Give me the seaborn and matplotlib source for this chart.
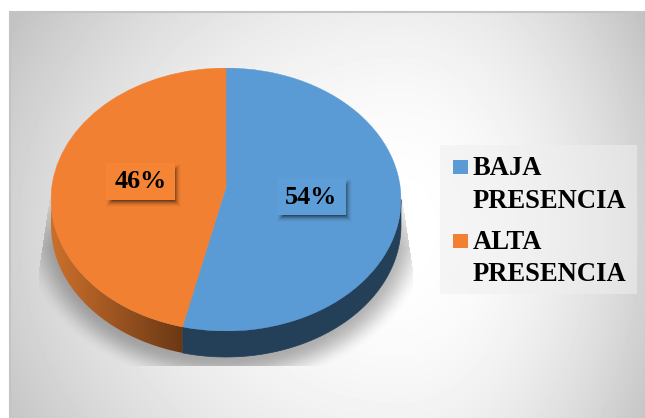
import numpy as np
import matplotlib
matplotlib.use("Agg")
import matplotlib.pyplot as plt
from matplotlib.legend_handler import HandlerPatch
from matplotlib.patches import Patch, PathPatch, Polygon, Rectangle
from matplotlib.path import Path
import seaborn as sns

categories = ["BAJA\nPRESENCIA", "ALTA\nPRESENCIA"]
shares = [54, 46]
top_colors = ["#5b9bd5", "#f28032"]
wall_colors = ["#243f58"]
label_fills = ["#5e9ed8", "#f58434"]

sns.set_theme(style="white")
plt.rcParams["font.family"] = ["Liberation Serif", "DejaVu Serif"]
plt.rcParams["font.weight"] = "bold"
palette = sns.color_palette(top_colors)

W, H = 645, 418
fig = plt.figure(figsize=(W / 100, H / 100), dpi=100, facecolor="white")

# Pixel-scale canvas for the backdrop, the drop shadow and the pie's wall
ax = fig.add_axes([0, 0, 1, 1])
ax.axis("off")

yy, xx = np.mgrid[0:H, 0:W] + 0.5


def rgba_layer(alpha, rgb=(0, 0, 0)):
    layer = np.zeros(alpha.shape + (4,))
    layer[..., :3] = rgb
    layer[..., 3] = alpha
    return layer


# Backdrop: off-centre radial fade from white to grey
cx0, cy0 = 400.0, 230.0
dx = np.where(xx > cx0, (xx - cx0) / 245.0, (xx - cx0) / 390.0)
dy = (yy - cy0) / 350.0
shade = np.clip(255 - 45 * (dx**2 + dy**2), 0, 255) / 255
ax.imshow(shade, cmap="gray", vmin=0, vmax=1, extent=(0, W, H, 0), aspect="auto", zorder=0)
ax.add_patch(Rectangle((0, 0), 9, H, fc="white", ec="none", zorder=1))
ax.add_patch(Rectangle((0, 0), W, 11, fc="white", ec="none", zorder=1))
ax.plot([10, 10, W], [H, 11.5, 11.5], color="#c4c4c4", lw=1.5, zorder=1)

# Geometry of the elliptical top face
px_cx, px_cy, rx, ry = 226.0, 199.5, 175.0, 131.5
depth = 26.0
apex_y = 187.0

# Soft ground shadow, cut flat at the bottom and tapering in towards the top
sx, sy = 226.0, 226.0
er = np.sqrt(((xx - sx) / 192.0) ** 2 + ((yy - sy) / 150.0) ** 2)
soft = np.clip((1.08 - er) / 0.2, 0, 1)
soft = soft * soft * (3 - 2 * soft)
fade = np.clip((yy - 188.0) / 60.0, 0, 1)
half_width = 175.0 + 12.0 * np.clip((yy - 190.0) / 80.0, 0, 1)
mask = (yy < 366) & (np.abs(xx - sx) < half_width)
ax.imshow(rgba_layer(0.3 * soft * fade * mask), extent=(0, W, H, 0), aspect="auto", zorder=2)

# Pie wall: the lower half of the rim, pushed down by the depth
theta_split = np.deg2rad(360 * shares[0] / sum(shares))


def wall_path(a0, a1):
    t = np.linspace(a0, a1, 120)
    x = px_cx + rx * np.sin(t)
    y = px_cy - ry * np.cos(t)
    return np.r_[np.c_[x, y], np.c_[x, y + depth][::-1]]


ax.add_patch(Polygon(wall_path(np.pi / 2, theta_split), closed=True,
                     fc=wall_colors[0], ec=wall_colors[0], lw=0.5, zorder=3))

orange_wall = Polygon(wall_path(theta_split, 3 * np.pi / 2), closed=True,
                      fc="none", ec="none", zorder=3)
ax.add_patch(orange_wall)
split_x = px_cx + rx * np.sin(theta_split)
ramp = np.clip((xx[0] - 51.0) / (split_x - 51.0), 0, 1)
start, end = np.array([0.80, 0.44, 0.17]), np.array([0.42, 0.22, 0.08])
grad = np.tile(start[None, :] + (end - start)[None, :] * ramp[:, None], (H, 1, 1))
img = ax.imshow(grad, extent=(0, W, H, 0), aspect="auto", zorder=3)
img.set_clip_path(orange_wall)
ax.set_xlim(0, W)
ax.set_ylim(H, 0)

# Top face: a pie stretched into the ellipse by its own axes box
pie_ax = fig.add_axes([(px_cx - rx) / W, 1 - (px_cy + ry) / H, 2 * rx / W, 2 * ry / H])
wedges, _ = pie_ax.pie(shares, colors=palette, startangle=90, counterclock=False,
                       radius=1.0, wedgeprops={"linewidth": 0})
pie_ax.set_aspect("auto")
pie_ax.set_xlim(-1, 1)
pie_ax.set_ylim(-1, 1)
pie_ax.patch.set_alpha(0)
pie_ax.axis("off")

# The foreshortened hub sits above the ellipse's geometric centre
hub = (px_cy - apex_y) / ry
for w in wedges:
    path = w.get_path()
    verts = path.vertices.copy()
    verts[np.all(np.isclose(verts, 0.0), axis=1)] = (0.0, hub)
    w.set_visible(False)
    pie_ax.add_patch(PathPatch(Path(verts, path.codes), fc=w.get_facecolor(),
                               ec=w.get_facecolor(), lw=0.3, zorder=2))

# Overlay for the value labels and the legend
top = fig.add_axes([0, 0, 1, 1])
top.axis("off")
top.patch.set_alpha(0)

label_boxes = [(277, 178, 346, 215), (106, 163, 175, 200)]
for val, fill, (x0, y0, x1, y1) in zip(shares, label_fills, label_boxes):
    edge = np.minimum.reduce([xx - (x0 + 3), (x1 + 3) - xx, yy - (y0 + 4), (y1 + 4) - yy])
    s = np.clip((edge + 4) / 8, 0, 1)
    top.imshow(rgba_layer(0.6 * s * s), extent=(0, W, H, 0), aspect="auto", zorder=1)
    top.add_patch(Rectangle((x0, y0), x1 - x0, y1 - y0, fc=fill, ec="none", zorder=2))
    top.text((x0 + x1) / 2, (y0 + y1) / 2 + 0.5, f"{val}%", ha="center", va="center",
             fontsize=18.8, fontweight="bold", color="black", zorder=3)
top.set_xlim(0, W)
top.set_ylim(H, 0)

# Translucent panel behind the legend entries
top.add_patch(Rectangle((440, 145), 197, 149, fc="#efefef", ec="none", alpha=0.55, zorder=2))


def first_line_square(legend, orig_handle, xdescent, ydescent, width, height, fontsize):
    # Square key raised so it lines up with the first line of a two-line label
    return Rectangle((-xdescent, -ydescent + 13.5), width, width)


handles = [Patch(facecolor=c, edgecolor="none") for c in palette]
legend = top.legend(handles, categories, loc="upper left",
                    bbox_to_anchor=(445.5 / W, 1 - 149 / H),
                    prop={"family": "Liberation Serif", "weight": "bold", "size": 19.2},
                    frameon=False, labelcolor="black", handlelength=0.55,
                    handleheight=0.55, handletextpad=0.2, labelspacing=0.62,
                    borderaxespad=0, borderpad=0.28,
                    handler_map={Patch: HandlerPatch(patch_func=first_line_square)})
legend.set_zorder(5)
for t in legend.get_texts():
    t.set_linespacing(1.38)

fig.savefig("out.png", dpi=100, facecolor="white")
